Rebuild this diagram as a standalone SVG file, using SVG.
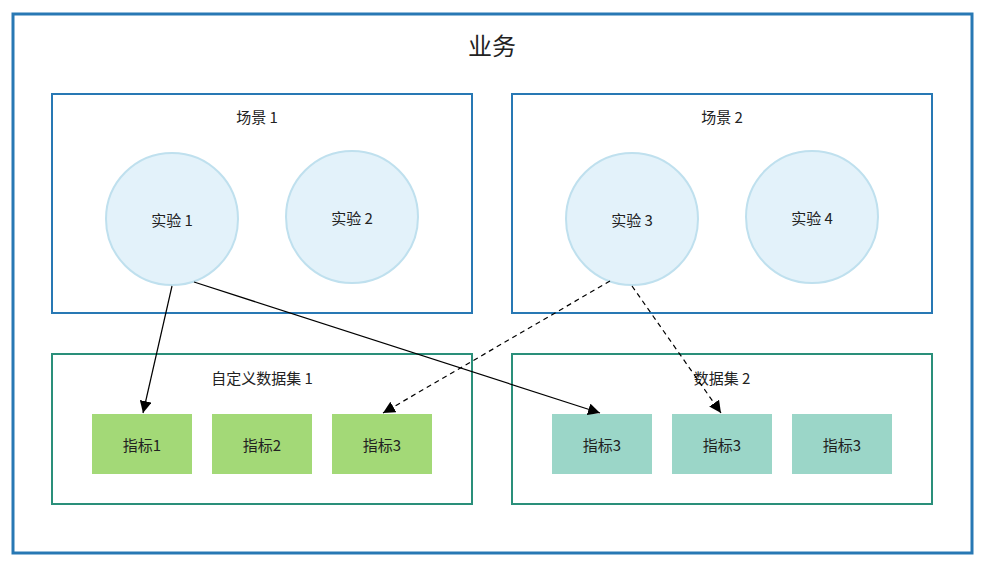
<svg xmlns="http://www.w3.org/2000/svg" width="989" height="569" viewBox="0 0 989 569">
<style>
text{font-family:"Noto Sans CJK SC","Liberation Sans",sans-serif;fill:#222;text-anchor:middle;dominant-baseline:central}
.t{font-size:15px}
.sc{fill:#fff;stroke:#2878b4;stroke-width:2}
.ds{fill:#fff;stroke:#2a8f7a;stroke-width:2}
.c{fill:#e3f2fa;stroke:#bfe0ee;stroke-width:2}
.g{fill:#a3d977}
.b{fill:#9bd6c8}
.l{stroke:#000;stroke-width:1.2;fill:none;marker-end:url(#a)}
.d{stroke-dasharray:5,4}
</style>
<defs><marker id="a" viewBox="0 0 10 10" refX="10" refY="5" markerWidth="12" markerHeight="12" markerUnits="userSpaceOnUse" orient="auto"><path d="M0,0L10,5L0,10z" fill="#000"/></marker></defs>
<rect width="989" height="569" fill="#fff"/>
<g id="biz"><rect x="13" y="14" width="959" height="539" fill="#fff" stroke="#2878b4" stroke-width="3"/><text x="492" y="44" style="font-size:24px">业务</text></g>
<g id="scene1"><rect class="sc" x="52" y="94" width="420" height="219"/><text class="t" x="257" y="116">场景 1</text></g>
<g id="scene2"><rect class="sc" x="512" y="94" width="420" height="219"/><text class="t" x="722" y="116">场景 2</text></g>
<g id="exp1"><circle class="c" cx="172" cy="219" r="66"/><text class="t" x="172" y="219">实验 1</text></g>
<g id="exp2"><circle class="c" cx="352" cy="217" r="66"/><text class="t" x="352" y="217">实验 2</text></g>
<g id="exp3"><circle class="c" cx="632" cy="219" r="66"/><text class="t" x="632" y="219">实验 3</text></g>
<g id="exp4"><circle class="c" cx="812" cy="217" r="66"/><text class="t" x="812" y="217">实验 4</text></g>
<g id="ds1"><rect class="ds" x="52" y="354" width="420" height="150"/><text class="t" x="262" y="377">自定义数据集 1</text></g>
<g id="ds2"><rect class="ds" x="512" y="354" width="420" height="150"/><text class="t" x="722" y="377">数据集 2</text></g>
<g id="m1"><rect class="g" x="92" y="414" width="100" height="60"/><text class="t" x="142" y="444">指标1</text></g>
<g id="m2"><rect class="g" x="212" y="414" width="100" height="60"/><text class="t" x="262" y="444">指标2</text></g>
<g id="m3"><rect class="g" x="332" y="414" width="100" height="60"/><text class="t" x="382" y="444">指标3</text></g>
<g id="m4"><rect class="b" x="552" y="414" width="100" height="60"/><text class="t" x="602" y="444">指标3</text></g>
<g id="m5"><rect class="b" x="672" y="414" width="100" height="60"/><text class="t" x="722" y="444">指标3</text></g>
<g id="m6"><rect class="b" x="792" y="414" width="100" height="60"/><text class="t" x="842" y="444">指标3</text></g>
<g id="connectors">
<path class="l" d="M172,286L143,413"/>
<path class="l" d="M194,282L600,413"/>
<path class="l d" d="M610,281L383,413"/>
<path class="l d" d="M632,286L721,413"/>
</g>
</svg>
